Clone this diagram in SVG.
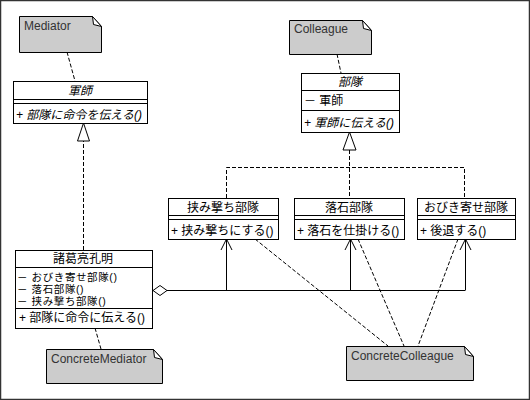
<svg xmlns="http://www.w3.org/2000/svg" width="530" height="400" viewBox="0 0 530 400">
<style>
text{font-family:"Liberation Sans","Noto Sans CJK JP",sans-serif;font-size:12px;fill:#000}
.it{font-style:italic}
.c{text-anchor:middle}
.sm{font-size:10.5px;letter-spacing:0.6px}
.note{fill:#cccccc;stroke:#000;stroke-width:1}
.fold{fill:#fff;stroke:#000;stroke-width:1}
.nt{fill:#333}
.box{fill:#fff;stroke:#000;stroke-width:1}
.ln{stroke:#000;stroke-width:1;fill:none}
.dash{stroke:#000;stroke-width:1;fill:none;stroke-dasharray:4,2}
.tri{fill:#fff;stroke:#000;stroke-width:1}
</style>
<rect x="0" y="0" width="530" height="400" fill="#fff"/>
<rect x="0.5" y="0.5" width="529" height="399" fill="none" stroke="#333" stroke-width="1.5"/>

<g id="connectors">
<path class="dash" d="M67,52 L75,81"/>
<path class="dash" d="M337,54 L341,73"/>
<path class="dash" d="M95,328 L101,349"/>
<path class="dash" d="M255,239 L388,346"/>
<path class="dash" d="M358,239 L404,346"/>
<path class="dash" d="M458,239 L418,346"/>
<path class="dash" d="M83.5,250 V141"/>
<polygon class="tri" points="83.5,123 77.5,141 89.5,141"/>
<path class="dash" d="M226.5,198 V167.5 H464.5 V198"/>
<path class="dash" d="M349.5,150 V198"/>
<polygon class="tri" points="349.5,132 343,150 356,150"/>
<path class="ln" d="M167,290.5 H465.5"/>
<polygon class="box" points="153,290.5 160,285.5 167,290.5 160,295.5"/>
<path class="ln" d="M226.5,290 V239 M221,250 L226.5,239 L232,250"/>
<path class="ln" d="M350.5,290 V239 M345,250 L350.5,239 L356,250"/>
<path class="ln" d="M465.5,290 V239 M460,250 L465.5,239 L471,250"/>
</g>

<g id="note-mediator">
<path class="note" d="M19.5,16.5 H92.5 L101.5,26.5 V52.5 H19.5 Z"/>
<path class="fold" d="M92.5,16.5 L93.5,24.5 L101.5,26.5 Z"/>
<text class="nt" x="24" y="30">Mediator</text>
</g>

<g id="note-colleague">
<path class="note" d="M289.5,20.5 H362.5 L371.5,30.5 V54.5 H289.5 Z"/>
<path class="fold" d="M362.5,20.5 L363.5,28.5 L371.5,30.5 Z"/>
<text class="nt" x="294" y="33">Colleague</text>
</g>

<g id="note-concretemediator">
<path class="note" d="M46.5,349.5 H153.5 L162.5,359.5 V383.5 H46.5 Z"/>
<path class="fold" d="M153.5,349.5 L154.5,357.5 L162.5,359.5 Z"/>
<text class="nt" x="51" y="363">ConcreteMediator</text>
</g>

<g id="note-concretecolleague">
<path class="note" d="M346.5,346.5 H464.5 L473.5,356.5 V380.5 H346.5 Z"/>
<path class="fold" d="M464.5,346.5 L465.5,354.5 L473.5,356.5 Z"/>
<text class="nt" x="351" y="360">ConcreteColleague</text>
</g>

<g id="class-gunshi">
<rect class="box" x="13.5" y="81.5" width="134" height="42"/>
<path class="ln" d="M13.5,99.5 H147.5 M13.5,103.5 H147.5"/>
<text class="it c" x="80" y="95">軍師</text>
<text class="it" x="16" y="119">+ 部隊に命令を伝える()</text>
</g>

<g id="class-butai">
<rect class="box" x="301.5" y="73.5" width="98" height="59"/>
<path class="ln" d="M301.5,90.5 H399.5 M301.5,110.5 H399.5"/>
<text class="it c" x="350" y="86">部隊</text>
<text x="304" y="105">－ 軍師</text>
<text class="it" x="304" y="127">+ 軍師に伝える()</text>
</g>

<g id="class-hasamiuchi">
<rect class="box" x="168.5" y="198.5" width="110" height="41"/>
<path class="ln" d="M168.5,215.5 H278.5 M168.5,219.5 H278.5"/>
<text class="c" x="223" y="212">挟み撃ち部隊</text>
<text x="171" y="235">+ 挟み撃ちにする()</text>
</g>

<g id="class-rakuseki">
<rect class="box" x="294.5" y="198.5" width="110" height="41"/>
<path class="ln" d="M294.5,215.5 H404.5 M294.5,219.5 H404.5"/>
<text class="c" x="349" y="212">落石部隊</text>
<text x="297" y="235">+ 落石を仕掛ける()</text>
</g>

<g id="class-obikiyose">
<rect class="box" x="417.5" y="198.5" width="98" height="41"/>
<path class="ln" d="M417.5,215.5 H515.5 M417.5,219.5 H515.5"/>
<text class="c" x="466" y="212">おびき寄せ部隊</text>
<text x="420" y="235">+ 後退する()</text>
</g>

<g id="class-koumei">
<rect class="box" x="15.5" y="250.5" width="137" height="78"/>
<path class="ln" d="M15.5,267.5 H152.5 M15.5,308.5 H152.5"/>
<text class="c" x="83" y="263">諸葛亮孔明</text>
<text class="sm" x="17" y="280.5">－ おびき寄せ部隊()</text>
<text class="sm" x="17" y="292.5">－ 落石部隊()</text>
<text class="sm" x="17" y="304.5">－ 挟み撃ち部隊()</text>
<text x="19" y="322">+ 部隊に命令に伝える()</text>
</g>
</svg>
